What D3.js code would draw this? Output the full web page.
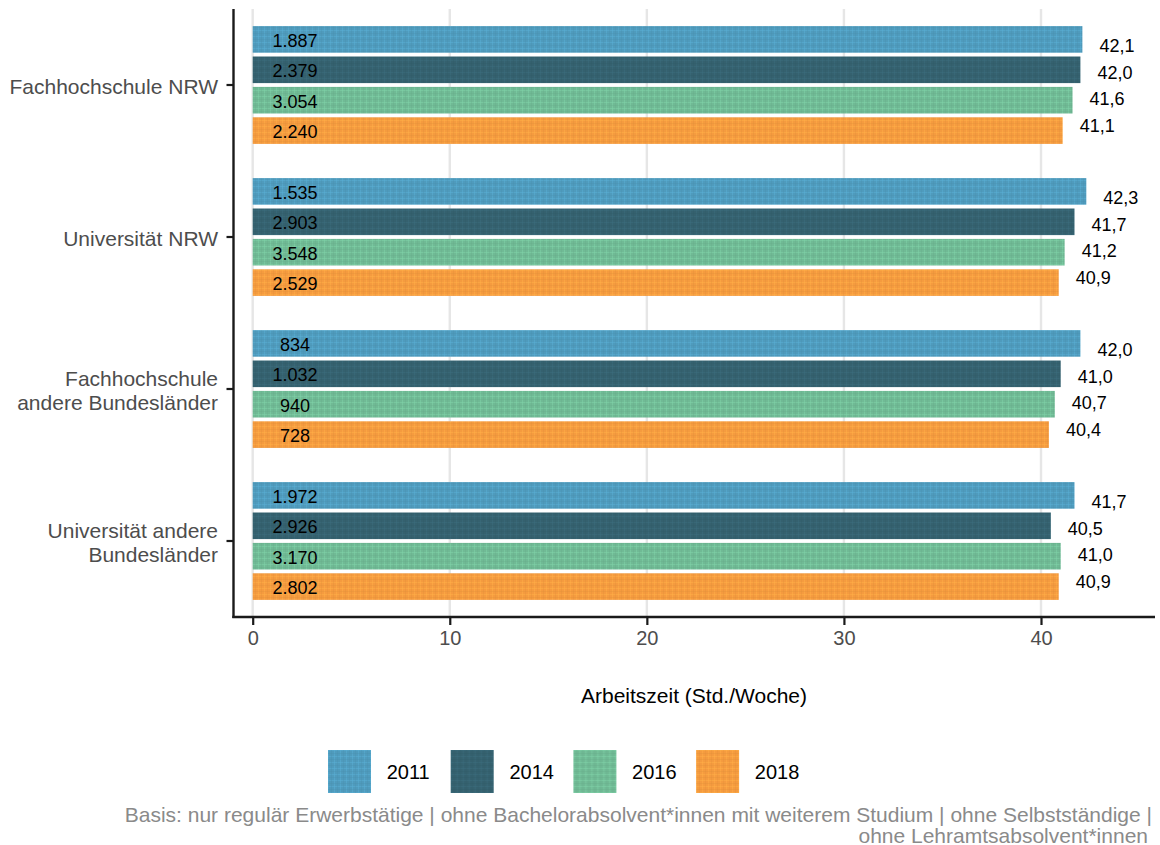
<!DOCTYPE html>
<html>
<head>
<meta charset="utf-8">
<script src="https://cdn.jsdelivr.net/npm/d3@7"></script>
<style>
  html, body { margin: 0; padding: 0; background: #fff; }
  svg { display: block; font-family: "Liberation Sans", Arial, sans-serif; }
</style>
</head>
<body>
<svg id="chart" width="1160" height="845"></svg>
<script>
// ---- data ----
const categories = ["Fachhochschule NRW", "Universität NRW", "Fachhochschule andere Bundesländer", "Universität andere Bundesländer"];
const categoryLines = [["Fachhochschule NRW"], ["Universität NRW"], ["Fachhochschule", "andere Bundesländer"], ["Universität andere", "Bundesländer"]];
const years = ["2011", "2014", "2016", "2018"];
const hours2011 = [42.1, 42.3, 42.0, 41.7];
const hours2014 = [42.0, 41.7, 41.0, 40.5];
const hours2016 = [41.6, 41.2, 40.7, 41.0];
const hours2018 = [41.1, 40.9, 40.4, 40.9];
const counts2011 = ["1.887", "1.535", "834", "1.972"];
const counts2014 = ["2.379", "2.903", "1.032", "2.926"];
const counts2016 = ["3.054", "3.548", "940", "3.170"];
const counts2018 = ["2.240", "2.529", "728", "2.802"];
const xTicks = [0, 10, 20, 30, 40];
const xTitle = "Arbeitszeit (Std./Woche)";
const captionLines = ["Basis: nur regulär Erwerbstätige | ohne Bachelorabsolvent*innen mit weiterem Studium | ohne Selbstständige |", "ohne Lehramtsabsolvent*innen"];

const colors = { "2011": "#4f9bbd", "2014": "#35616f", "2016": "#70ba95", "2018": "#f59b3f" };
const hoursByYear = { "2011": hours2011, "2014": hours2014, "2016": hours2016, "2018": hours2018 };
const countsByYear = { "2011": counts2011, "2014": counts2014, "2016": counts2016, "2018": counts2018 };

const rows = [];
categories.forEach((c, i) => years.forEach(y => rows.push({ cat: c, year: y, hours: hoursByYear[y][i], n: countsByYear[y][i] })));

// ---- layout ----
const svg = d3.select("#chart");
const panel = { left: 233.5, right: 1155, top: 9, bottom: 617 };

const x = d3.scaleLinear().domain([0, 40]).range([252.7, 1041]);
const y = d3.scaleBand().domain(categories).range([panel.top, panel.bottom]).paddingInner(0).paddingOuter(0);
const yInner = d3.scaleBand().domain(years).range([-y.bandwidth() * 0.4, y.bandwidth() * 0.4]).paddingInner(0.125).paddingOuter(0.0625);
const yLabel = d3.scaleBand().domain(years).range([-y.bandwidth() * 0.35, y.bandwidth() * 0.35]);

// ---- patterns (fine grid texture) ----
const defs = svg.append("defs");
years.forEach(yr => {
  const base = d3.color(colors[yr]);
  const p = defs.append("pattern").attr("id", "pat" + yr).attr("patternUnits", "userSpaceOnUse")
    .attr("width", 6).attr("height", 6);
  p.append("rect").attr("width", 6).attr("height", 6).attr("fill", base.formatHex());
  const light = base.brighter(0.35).formatHex();
  const dark = base.darker(0.25).formatHex();
  p.append("rect").attr("x", 0).attr("y", 0).attr("width", 6).attr("height", 1).attr("fill", light).attr("opacity", 0.5);
  p.append("rect").attr("x", 0).attr("y", 0).attr("width", 1).attr("height", 6).attr("fill", light).attr("opacity", 0.5);
  p.append("rect").attr("x", 0).attr("y", 3).attr("width", 6).attr("height", 1).attr("fill", dark).attr("opacity", 0.3);
  p.append("rect").attr("x", 3).attr("y", 0).attr("width", 1).attr("height", 6).attr("fill", dark).attr("opacity", 0.3);
});

// ---- gridlines ----
svg.append("g").selectAll("line").data(xTicks).join("line")
  .attr("x1", d => x(d)).attr("x2", d => x(d))
  .attr("y1", panel.top).attr("y2", panel.bottom)
  .attr("stroke", "#e6e6e6").attr("stroke-width", 2.4);

// ---- bars ----
const barG = svg.append("g");
barG.selectAll("rect").data(rows).join("rect")
  .attr("x", x(0))
  .attr("y", d => y(d.cat) + y.bandwidth() / 2 + yInner(d.year))
  .attr("width", d => x(d.hours) - x(0))
  .attr("height", yInner.bandwidth())
  .attr("fill", d => `url(#pat${d.year})`);

// count labels inside
barG.selectAll("text.n").data(rows).join("text").attr("class", "n")
  .attr("x", x(2.15))
  .attr("y", d => y(d.cat) + y.bandwidth() / 2 + yInner(d.year) + yInner.bandwidth() / 2 + 1.5)
  .attr("text-anchor", "middle").attr("dominant-baseline", "central")
  .attr("font-size", 18).attr("fill", "#000")
  .text(d => d.n);

// value labels (narrower dodge)
const fmt = v => v.toFixed(1).replace(".", ",");
barG.selectAll("text.v").data(rows).join("text").attr("class", "v")
  .attr("x", d => x(d.hours) + 17)
  .attr("y", d => y(d.cat) + y.bandwidth() / 2 + yLabel(d.year) + yLabel.bandwidth() / 2 + 1)
  .attr("text-anchor", "start").attr("dominant-baseline", "central")
  .attr("font-size", 18).attr("fill", "#000")
  .text(d => fmt(d.hours));

// ---- axes ----
const xAxis = d3.axisBottom(x).tickValues(xTicks).tickSize(8).tickPadding(6).tickFormat(d3.format("d"));
const gx = svg.append("g").attr("transform", `translate(0,${panel.bottom})`).call(xAxis);
gx.select(".domain").remove();
gx.selectAll(".tick line").attr("stroke", "#1a1a1a").attr("stroke-width", 2.2);
gx.selectAll(".tick text").attr("fill", "#4d4d4d").attr("font-size", 20).attr("font-family", "Liberation Sans, Arial, sans-serif");

const yAxis = d3.axisLeft(y).tickSize(7).tickPadding(8).tickFormat("");
const gy = svg.append("g").attr("transform", `translate(${panel.left},0)`).call(yAxis);
gy.select(".domain").remove();
gy.selectAll(".tick line").attr("stroke", "#1a1a1a").attr("stroke-width", 2.2);

// y labels (multi-line)
const yl = svg.append("g").selectAll("text").data(categories).join("text")
  .attr("text-anchor", "end").attr("fill", "#4d4d4d").attr("font-size", 21);
yl.each(function (d, i) {
  const lines = categoryLines[i];
  const lh = 24;
  const cy = y(d) + y.bandwidth() / 2 + 1;
  const t = d3.select(this);
  lines.forEach((ln, j) => {
    t.append("tspan").attr("x", 218)
      .attr("y", cy - (lines.length - 1) * lh / 2 + j * lh)
      .attr("dominant-baseline", "central")
      .text(ln);
  });
});

// axis lines
svg.append("line").attr("x1", panel.left).attr("x2", panel.left).attr("y1", panel.top).attr("y2", panel.bottom + 1.1)
  .attr("stroke", "#1a1a1a").attr("stroke-width", 2.4);
svg.append("line").attr("x1", panel.left - 1.2).attr("x2", panel.right).attr("y1", panel.bottom).attr("y2", panel.bottom)
  .attr("stroke", "#1a1a1a").attr("stroke-width", 2.4);

// x title
svg.append("text").attr("x", 694).attr("y", 695).attr("text-anchor", "middle").attr("dominant-baseline", "central")
  .attr("font-size", 21).attr("fill", "#000").text(xTitle);

// ---- legend ----
const legend = svg.append("g");
const lg = legend.selectAll("g").data(years).join("g")
  .attr("transform", (d, i) => `translate(${328 + i * 122.7},750)`);
lg.append("rect").attr("width", 43).attr("height", 43).attr("fill", d => `url(#pat${d})`);
lg.append("text").attr("x", 58.7).attr("y", 22).attr("dominant-baseline", "central")
  .attr("font-size", 20).attr("fill", "#000").text(d => d);

// ---- caption ----
svg.append("g").selectAll("text").data(captionLines).join("text")
  .attr("x", (d, i) => i === 0 ? 1152 : 1148)
  .attr("y", (d, i) => 814 + i * 21)
  .attr("text-anchor", "end").attr("dominant-baseline", "central")
  .attr("font-size", 21).attr("fill", "#8a8a8a").text(d => d);
</script>
</body>
</html>
